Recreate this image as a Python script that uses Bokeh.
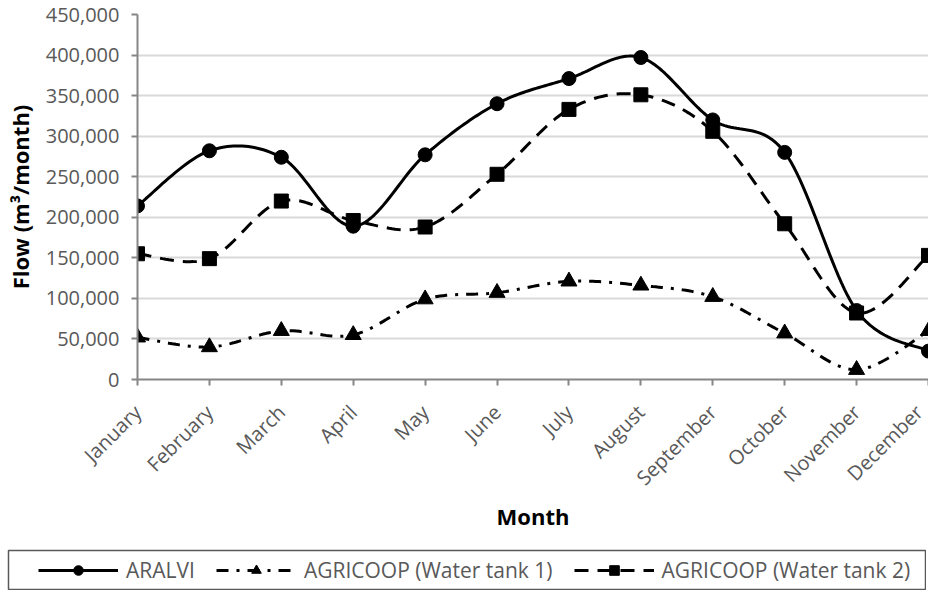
import numpy as np
from bokeh.plotting import figure
from bokeh.models import (Range1d, FixedTicker, NumeralTickFormatter, Legend, LegendItem)
from bokeh.embed import file_html
from bokeh.resources import INLINE

months = ["January", "February", "March", "April", "May", "June", "July",
          "August", "September", "October", "November", "December"]
aralvi = [214000, 282000, 274000, 189000, 277000, 340000, 371000, 397000,
          320000, 280000, 85000, 35000]
tank1 = [52000, 40000, 60000, 55000, 99000, 107000, 121000, 116000,
         102000, 57000, 12000, 60000]
tank2 = [155000, 149000, 220000, 196000, 188000, 253000, 333000, 351000,
         306000, 192000, 82000, 153000]
y_ticks = [0, 50000, 100000, 150000, 200000, 250000, 300000, 350000, 400000, 450000]
series_names = ["ARALVI", "AGRICOOP (Water tank 1)", "AGRICOOP (Water tank 2)"]

FONT = "Open Sans"


def smooth(xs, ys, n=24):
    """Excel-like smoothed line (Catmull-Rom Bezier) through the data points."""
    p = np.column_stack([np.asarray(xs, float), np.asarray(ys, float)])
    out = []
    m = len(p)
    for i in range(m - 1):
        p0 = p[i - 1] if i > 0 else p[i]
        p1 = p[i]
        p2 = p[i + 1]
        p3 = p[i + 2] if i + 2 < m else p[i + 1]
        c1 = p1 + (p2 - p0) / 6.0
        c2 = p2 - (p3 - p1) / 6.0
        ts = np.linspace(0, 1, n, endpoint=(i == m - 2))
        for t in ts:
            b = ((1 - t) ** 3) * p1 + 3 * ((1 - t) ** 2) * t * c1 + 3 * (1 - t) * t * t * c2 + t ** 3 * p2
            out.append(b)
    out = np.array(out)
    return out[:, 0], out[:, 1]


xs = list(range(len(months)))

p = figure(width=928, height=549, output_backend="svg", toolbar_location=None,
           x_range=Range1d(0, len(months) - 1), y_range=Range1d(0, 450000),
           min_border_left=137, min_border_right=0, min_border_top=14,
           min_border_bottom=170)
p.outline_line_color = None
p.background_fill_color = "white"
p.border_fill_color = "white"

# grid
p.xgrid.grid_line_color = None
p.ygrid.grid_line_color = "#d9d9d9"
p.ygrid.grid_line_width = 2

# axes
p.yaxis.ticker = FixedTicker(ticks=y_ticks)
p.yaxis.formatter = NumeralTickFormatter(format="0,0")
p.xaxis.ticker = FixedTicker(ticks=xs)
p.xaxis.major_label_overrides = {i: m for i, m in enumerate(months)}
p.xaxis.major_label_orientation = np.pi / 4
for ax in (p.xaxis, p.yaxis):
    ax.axis_line_color = "#868686"
    ax.axis_line_width = 2
    ax.major_tick_line_color = "#868686"
    ax.major_tick_line_width = 2
    ax.major_tick_out = 6
    ax.major_tick_in = 0
    ax.minor_tick_line_color = None
    ax.major_label_text_font = FONT
    ax.major_label_text_font_size = "20px"
    ax.major_label_text_color = "#595959"
    ax.axis_label_text_font = FONT
    ax.axis_label_text_font_style = "bold"
    ax.axis_label_text_font_size = "22px"
    ax.axis_label_text_color = "#000000"
p.yaxis.major_label_standoff = 12
p.xaxis.major_label_standoff = 23
p.yaxis.axis_label = "Flow (m\u00b3/month)"
p.xaxis.axis_label = "Month"
p.yaxis.axis_label_standoff = 8
p.xaxis.axis_label_standoff = -2

# series
styles = [
    dict(dash="solid", marker="circle", size=14),
    dict(dash="12 8 3 8", marker="triangle", size=16),
    dict(dash="14 9", marker="square", size=14),
]
for vals, st in zip([aralvi, tank1, tank2], styles):
    sx, sy = smooth(xs, vals)
    p.line(sx, sy, line_color="black", line_width=3, line_dash=st["dash"])
    p.scatter(xs, vals, marker=st["marker"], size=st["size"],
              fill_color="black", line_color="black")

# legend strip: a second root below the chart, its frame outline is the legend box
p2 = figure(width=926, height=41, output_backend="svg", toolbar_location=None,
            x_range=Range1d(0, 1), y_range=Range1d(0, 1),
            x_axis_type=None, y_axis_type=None,
            min_border_left=8, min_border_right=1, min_border_top=1, min_border_bottom=1)
p2.xgrid.grid_line_color = None
p2.ygrid.grid_line_color = None
p2.outline_line_color = "#595959"
p2.outline_line_width = 1.5
p2.background_fill_color = "white"
p2.border_fill_color = "white"

items = []
for name, st in zip(series_names, styles):
    # off-range sample points: only their legend glyphs are visible
    lr = p2.line([-3, -2], [-3, -2], line_color="black", line_width=3, line_dash=st["dash"])
    sr = p2.scatter([-3], [-3], marker=st["marker"], size=st["size"],
                    fill_color="black", line_color="black")
    items.append(LegendItem(label=name, renderers=[lr, sr]))

legend = Legend(items=items, location=(30, 5), orientation="horizontal")
legend.label_text_font = FONT
legend.label_text_font_size = "21px"
legend.label_text_color = "#595959"
legend.border_line_color = None
legend.background_fill_alpha = 0
legend.glyph_width = 80
legend.glyph_height = 24
legend.label_standoff = 8
legend.spacing = 21
legend.padding = 0
legend.margin = 0
p2.add_layout(legend)

open("out.html", "w").write(file_html([p, p2], INLINE))
